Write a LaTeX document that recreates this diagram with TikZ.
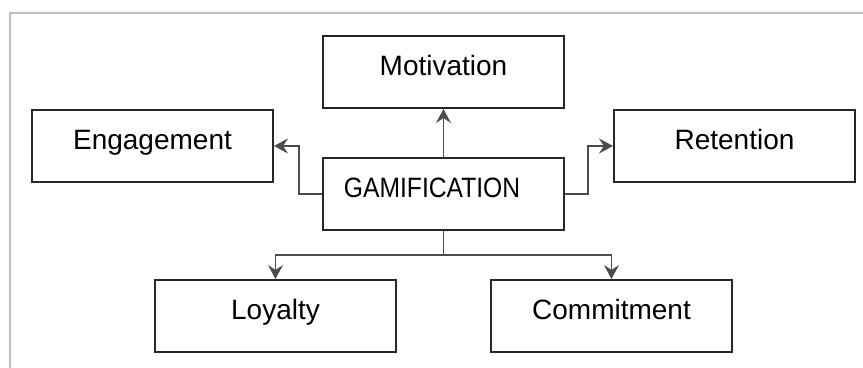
\documentclass[tikz,border=0pt]{standalone}
\usepackage{fontspec}
\setmainfont{Liberation Sans}
\newfontfamily\narrowfont{Liberation Sans}[FakeStretch=0.88]
\usetikzlibrary{positioning,arrows.meta}

\begin{document}
\begin{tikzpicture}[
    node distance=24pt and 24pt,
    block/.style={
        rectangle,
        draw=black!85,
        line width=1pt,
        minimum width=120.5pt,
        minimum height=36pt,
        text height=12pt,
        text depth=8pt,
        align=center,
        font=\fontsize{14}{16}\selectfont
    },
    line/.style={
        draw=black!70,
        line width=0.55pt,
        -{Stealth[length=7pt,width=7.5pt,inset=2.5pt]}
    },
    frameline/.style={
        draw=black!25,
        line width=1pt
    }
]

    % --- Page frame ---
    \useasboundingbox (-221.75pt,-87pt) rectangle (209.75pt,97pt);
    \draw [frameline] (-216.75pt,-88pt) -- (-216.75pt,90.5pt) -- (210pt,90.5pt);

    % --- Nodes ---

    % Centre (left aligned, narrower caps)
    \node [block, inner xsep=10.5pt, text width=99.5pt, align=left,
           font=\narrowfont\fontsize{14}{16}\selectfont] (gam) {GAMIFICATION};

    % Top row
    \node [block, above=of gam] (motiv) {Motivation};
    \node [block, left=of gam, yshift=24pt] (engage) {Engagement};
    \node [block, right=of gam, yshift=24pt] (retain) {Retention};

    % Bottom row
    \node [block, below=of gam, xshift=-84pt] (loyal) {Loyalty};
    \node [block, below=of gam, xshift=84pt] (commit) {Commitment};

    % --- Connections ---
    \coordinate [below=12pt of gam.south] (split);

    \path [line] (gam) -- (motiv);
    \path [line] (gam.west) -- ++(-11.5pt,0) |- (engage.east);
    \path [line] (gam.east) -- ++(11.5pt,0) |- (retain.west);
    \path [line] (gam.south) -- (split) -| (loyal.north);
    \path [line] (split) -| (commit.north);

\end{tikzpicture}
\end{document}
